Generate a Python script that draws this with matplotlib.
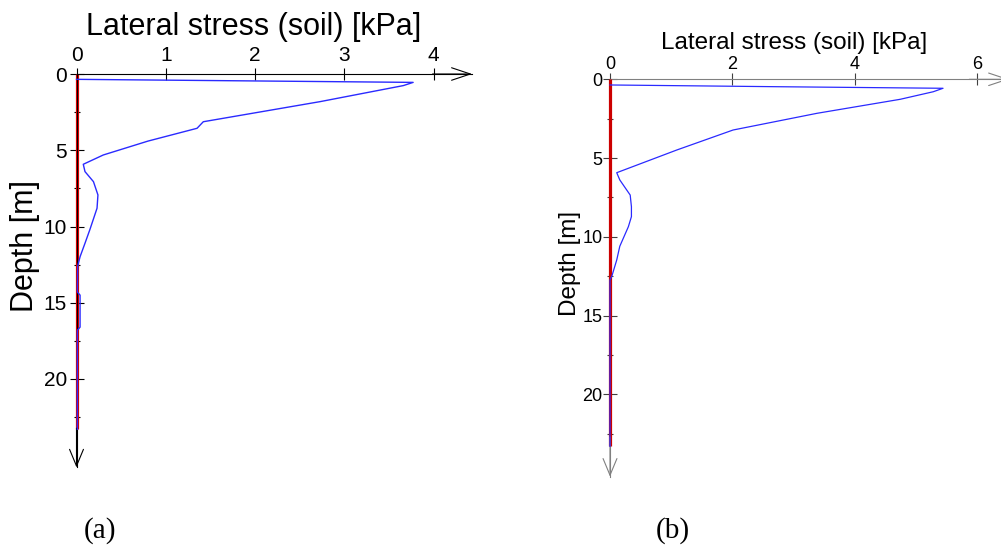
import numpy as np
import matplotlib
matplotlib.use("Agg")
import matplotlib.pyplot as plt
from matplotlib.ticker import FixedLocator

# donnees
depth_a = [0.35, 0.45, 0.55, 0.76, 1.81, 3.13, 3.56, 4.4, 5.31, 5.92, 6.4, 7.06, 7.93,
           8.8, 10.2, 11.1, 11.98, 12.6, 14.3, 14.5, 16.6, 16.8, 23.3]
stress_a = [0.0, 1.9, 3.77, 3.66, 2.73, 1.42, 1.35, 0.8, 0.30, 0.076, 0.095, 0.19, 0.24,
            0.23, 0.15, 0.095, 0.04, 0.013, 0.01, 0.04, 0.04, 0.01, 0.01]

depth_b = [0.36, 0.47, 0.57, 0.79, 1.27, 2.16, 3.22, 4.49, 5.93, 6.39, 7.35, 8.09,
           8.72, 9.36, 10.6, 11.47, 12.5, 12.74, 23.3]
stress_b = [0.0, 2.72, 5.44, 5.28, 4.74, 3.38, 2.01, 1.09, 0.11, 0.16, 0.33, 0.35,
            0.35, 0.30, 0.16, 0.11, 0.03, 0.0, 0.0]

pile_depth = [0.0, 23.3]
pile_x = [0.0, 0.0]

xticks_a = [0, 1, 2, 3, 4]
xticks_b = [0, 2, 4, 6]
yticks = [0, 5, 10, 15, 20]
yticks_minor = [2.5, 7.5, 12.5, 17.5, 22.5]

W, H = 1001, 549


def fpos(x, y):
    return x / W, 1 - y / H


def panneau(fig, x0, y0, sx, sy, xtip, ytip, xticks, axcol, tickcol, fs_tick, pads):
    # axe place en pixels : origine (x0, y0), echelles sx, sy
    ax = fig.add_axes([x0 / W, 1 - (y0 + ytip * sy) / H, xtip * sx / W, ytip * sy / H])
    ax.set_xlim(0, xtip)
    ax.set_ylim(ytip, 0)
    ax.patch.set_alpha(0)
    for s in ["right", "bottom"]:
        ax.spines[s].set_visible(False)
    for s in ["left", "top"]:
        ax.spines[s].set_color(axcol)
        ax.spines[s].set_linewidth(0.8)
    ax.xaxis.set_ticks_position("top")
    ax.xaxis.set_label_position("top")
    ax.xaxis.set_major_locator(FixedLocator(xticks))
    ax.yaxis.set_major_locator(FixedLocator(yticks))
    ax.yaxis.set_minor_locator(FixedLocator(yticks_minor))
    ax.tick_params(axis="x", which="major", direction="inout", length=8.6, width=0.8,
                   color=tickcol, labelsize=fs_tick, pad=pads[0])
    ax.tick_params(axis="y", which="major", direction="inout", length=10, width=0.8,
                   color=tickcol, labelsize=fs_tick, pad=pads[1])
    ax.tick_params(axis="y", which="minor", direction="inout", length=4.3, width=0.8,
                   color=tickcol)
    for t in ax.get_xticklabels() + ax.get_yticklabels():
        t.set_fontfamily("Liberation Sans")
    # fleches au bout des axes
    ax.annotate("", xy=(xtip, 0), xytext=(xtip * 0.9, 0), annotation_clip=False,
                arrowprops=dict(arrowstyle="->,head_length=1.35,head_width=0.45",
                                color=axcol, lw=0.8, shrinkA=0, shrinkB=0))
    ax.annotate("", xy=(0, ytip), xytext=(0, ytip * 0.9), annotation_clip=False,
                arrowprops=dict(arrowstyle="->,head_length=1.2,head_width=0.5",
                                color=axcol, lw=0.8, shrinkA=0, shrinkB=0))
    return ax


fig = plt.figure(figsize=(W / 100, H / 100), dpi=100)

# (a)
ax1 = panneau(fig, 76.5, 74, 89.3, 15.25, 4.43, 25.8, xticks_a, "black", "black", 15, (2.5, 1.8))
ax1.plot(pile_x, pile_depth, color="#e00000", lw=2.3, zorder=2, clip_on=False, solid_capstyle="butt")
ax1.plot(stress_a, depth_a, color="#2a2aff", lw=1.0, zorder=3, clip_on=False)

# (b)
ax2 = panneau(fig, 610, 79.3, 61.22, 15.75, 6.52, 25.23, xticks_b, "#808080", "#404040", 13, (0.5, 0.5))
ax2.plot(pile_x, pile_depth, color="#cc0000", lw=2.3, zorder=2.6, clip_on=False, solid_capstyle="butt")
ax2.plot(stress_b, depth_b, color="#2a2aff", lw=0.9, zorder=3, clip_on=False)

# titres et etiquettes
fig.text(*fpos(254, 34.5), "Lateral stress (soil) [kPa]", ha="center", va="baseline",
         fontsize=22, family="Liberation Sans")
fig.text(*fpos(794, 48.5), "Lateral stress (soil) [kPa]", ha="center", va="baseline",
         fontsize=17.5, family="Liberation Sans")
fig.text(*fpos(25, 246), "Depth [m]", ha="center", va="center", rotation=90,
         fontsize=22, family="Liberation Sans")
fig.text(*fpos(570, 263), "Depth [m]", ha="center", va="center", rotation=90,
         fontsize=17.5, family="Liberation Sans")
fig.text(*fpos(100, 531), "(a)", ha="center", va="center", fontsize=21, family="Liberation Serif")
fig.text(*fpos(673, 531), "(b)", ha="center", va="center", fontsize=21, family="Liberation Serif")

fig.savefig("out.png", dpi=100)
